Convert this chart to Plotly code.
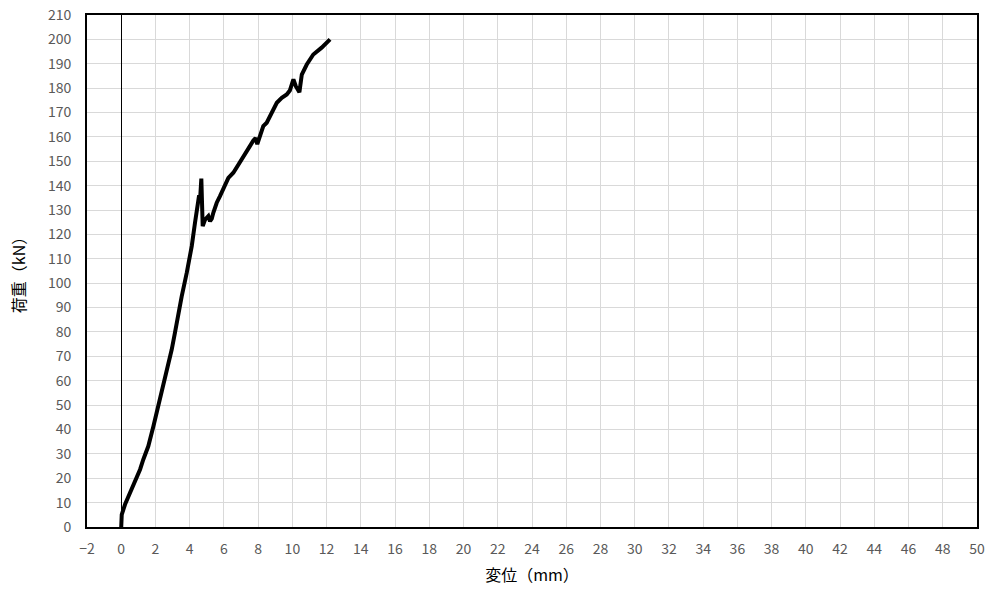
import plotly.graph_objects as go

# Data
displacement_mm = [0.0, 0.0, 0.03, 0.22, 0.71, 1.10, 1.29, 1.58, 1.88, 2.17, 2.46, 2.75, 2.95, 3.14,
                   3.24, 3.35, 3.44, 3.53, 3.83, 4.12, 4.31, 4.45, 4.55, 4.60, 4.68, 4.72, 4.76, 4.90,
                   5.09, 5.19, 5.29, 5.38, 5.48, 5.58, 5.77, 5.95, 6.26, 6.55, 6.94, 7.13, 7.50, 7.72,
                   7.85, 7.95, 8.30, 8.50, 8.89, 9.09, 9.38, 9.67, 9.85, 10.06, 10.20, 10.41, 10.55,
                   10.84, 11.22, 11.71, 12.2]
load_kN = [0.0, 3.0, 5.1, 9.2, 16.7, 23.6, 27.7, 33.1, 41.3, 49.5, 57.8, 66.0, 72.8, 79.7,
           84.0, 89.0, 92.0, 94.5, 104.3, 115.2, 124.8, 131.0, 136.0, 133.5, 142.9, 133.0, 123.4, 126.1,
           127.5, 125.4, 126.5, 128.9, 131.0, 133.0, 135.7, 138.4, 143.2, 145.3, 150.0, 152.1, 156.0, 158.5,
           159.5, 157.0, 164.4, 165.8, 171.2, 174.0, 176.0, 177.4, 179.0, 183.6, 180.8, 178.3, 185.6,
           189.7, 193.8, 196.6, 200.0]

x_tick_vals = list(range(-2, 51, 2))
x_tick_text = [("\u22122" if v == -2 else str(v)) for v in x_tick_vals]
y_tick_vals = list(range(0, 211, 10))

fig = go.Figure()
fig.add_trace(go.Scatter(
    x=displacement_mm, y=load_kN, mode="lines",
    line=dict(color="black", width=4), showlegend=False,
))

tick_font = dict(family="Noto Sans CJK JP, Liberation Sans", size=14, color="#595959")
title_font = dict(family="Noto Sans CJK JP", size=16, color="black")

fig.update_layout(
    width=990, height=592,
    margin=dict(l=87, r=13, t=15, b=65),
    paper_bgcolor="white", plot_bgcolor="white",
    xaxis=dict(
        range=[-2, 50], tickvals=x_tick_vals, ticktext=x_tick_text,
        automargin=False,
        showgrid=True, gridcolor="#d9d9d9", gridwidth=1,
        showline=True, linecolor="black", linewidth=2, mirror=True,
        zeroline=True, zerolinecolor="black", zerolinewidth=1.3,
        ticks="outside", ticklen=8, tickcolor="rgba(0,0,0,0)", tickfont=tick_font,
        title=dict(text="変位（mm）", font=title_font, standoff=13),
    ),
    yaxis=dict(
        range=[0, 210], tickvals=y_tick_vals,
        automargin=False,
        showgrid=True, gridcolor="#d9d9d9", gridwidth=1,
        showline=True, linecolor="black", linewidth=2, mirror=True,
        zeroline=False,
        ticks="outside", ticklen=11, tickcolor="rgba(0,0,0,0)", tickfont=tick_font,
        title=dict(text="荷重（kN）", font=title_font, standoff=18),
    ),
)

fig.write_html("out.html", config={"displayModeBar": False},
               post_script="document.body.style.margin='0';document.body.style.padding='0';")
